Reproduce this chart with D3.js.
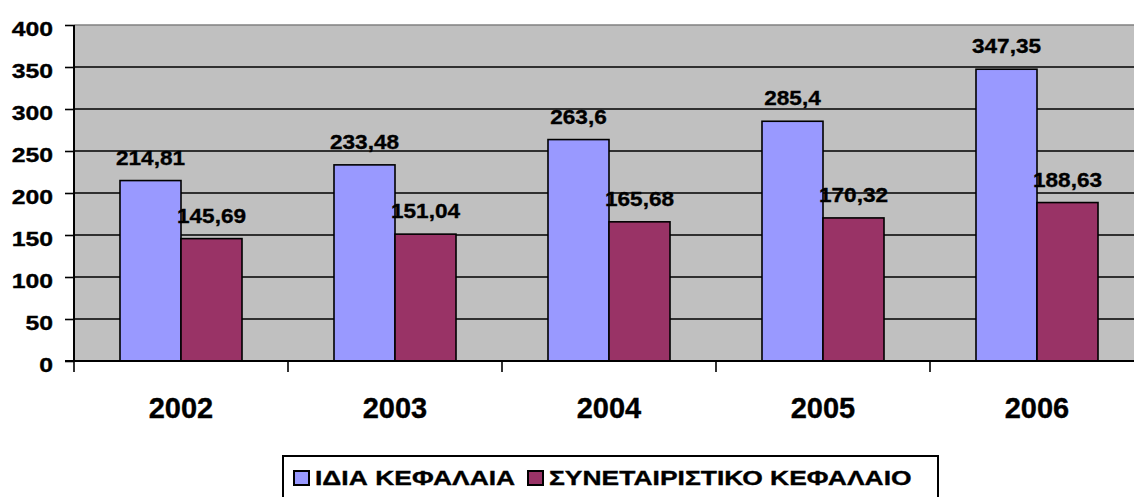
<!DOCTYPE html>
<html>
<head>
<meta charset="utf-8">
<script src="https://cdn.jsdelivr.net/npm/d3@7"></script>
<style>
  html, body { margin: 0; padding: 0; background: #ffffff; overflow: hidden; }
  svg { display: block; }
  text { font-family: "Liberation Sans", Arial, sans-serif; font-weight: bold; fill: #000; stroke: #000; stroke-width: 0.35px; }
</style>
</head>
<body>
<svg id="chart" width="1134" height="497"></svg>
<script>
// Years on the category axis
const years = ["2002", "2003", "2004", "2005", "2006"];
// Series names (legend labels)
const seriesNames = ["ΙΔΙΑ ΚΕΦΑΛΑΙΑ", "ΣΥΝΕΤΑΙΡΙΣΤΙΚΟ ΚΕΦΑΛΑΙΟ"];
// Own funds per year
const idiaKefalaia = [214.81, 233.48, 263.6, 285.4, 347.35];
// Cooperative capital per year
const synetairistiko = [145.69, 151.04, 165.68, 170.32, 188.63];
// Value-axis ticks
const yTicks = [0, 50, 100, 150, 200, 250, 300, 350, 400];
// Labels as printed on the bars (Greek decimal comma)
const idiaLabels = ["214,81", "233,48", "263,6", "285,4", "347,35"];
const synLabels = ["145,69", "151,04", "165,68", "170,32", "188,63"];

const seriesColors = ["#9999FF", "#993366"];

const svg = d3.select("#chart");

const plot = { left: 74, top: 25, right: 1144, bottom: 361 };

const x0 = d3.scaleBand().domain(years).range([plot.left, plot.right]).paddingInner(0).paddingOuter(0);
const x1 = d3.scaleBand().domain(d3.range(seriesNames.length)).range([0, x0.bandwidth()])
  .paddingInner(0).paddingOuter(0.754);
const y = d3.scaleLinear().domain([0, 400]).range([plot.bottom, plot.top]);

// Plot background
svg.append("rect")
  .attr("x", plot.left).attr("y", plot.top)
  .attr("width", plot.right - plot.left).attr("height", plot.bottom - plot.top)
  .attr("fill", "#C0C0C0");

// Horizontal gridlines
svg.append("g").selectAll("line")
  .data(yTicks.filter(t => t > 0 && t < 400))
  .join("line")
  .attr("x1", plot.left).attr("x2", plot.right)
  .attr("y1", d => y(d)).attr("y2", d => y(d))
  .attr("stroke", "#000").attr("stroke-width", 1.6);

// Top border of the plot area
svg.append("line")
  .attr("x1", plot.left).attr("x2", plot.right)
  .attr("y1", y(400)).attr("y2", y(400))
  .attr("stroke", "#808080").attr("stroke-width", 1.6);

// Bars
const rows = years.map((yr, i) => ({ year: yr, values: [idiaKefalaia[i], synetairistiko[i]], labels: [idiaLabels[i], synLabels[i]] }));

const groups = svg.append("g").selectAll("g")
  .data(rows)
  .join("g")
  .attr("transform", d => `translate(${x0(d.year)},0)`);

groups.selectAll("rect")
  .data(d => d.values.map((v, k) => ({ v, k })))
  .join("rect")
  .attr("x", d => x1(d.k))
  .attr("y", d => y(d.v))
  .attr("width", x1.bandwidth())
  .attr("height", d => y(0) - y(d.v))
  .attr("fill", d => seriesColors[d.k])
  .attr("stroke", "#000")
  .attr("stroke-width", 1.6);

// Value labels above each bar (slightly widened glyphs)
groups.selectAll("g.lbl")
  .data(d => d.values.map((v, k) => ({ v, k, t: d.labels[k] })))
  .join("g")
  .attr("class", "lbl")
  .attr("transform", d => `translate(${x1(d.k) + x1.bandwidth() / 2},${y(d.v) - 16}) scale(1.13,1)`)
  .append("text")
  .attr("text-anchor", "middle")
  .attr("font-size", 20)
  .text(d => d.t);

// Left value axis
const yAxis = d3.axisLeft(y).tickValues(yTicks).tickSize(9).tickFormat(d3.format("d"));
const gy = svg.append("g").attr("transform", `translate(${plot.left},0)`).call(yAxis);
gy.select(".domain").attr("stroke", "#000").attr("stroke-width", 2).attr("d", `M0,${plot.top}V${plot.bottom}`);
gy.selectAll(".tick line").attr("stroke", "#000").attr("stroke-width", 1.6);
gy.selectAll(".tick text").remove();
gy.selectAll(".tick").append("g")
  .attr("transform", "translate(-21,10) scale(1.18,1)")
  .append("text")
  .attr("text-anchor", "end")
  .attr("font-size", 21)
  .text(d => d);

// Category axis at zero
const xAxis = d3.axisBottom(x0).tickSize(0).tickFormat("");
const gx = svg.append("g").attr("transform", `translate(0,${plot.bottom})`).call(xAxis);
gx.select(".domain").attr("stroke", "#000").attr("stroke-width", 2).attr("d", `M${plot.left - 9},0H${plot.right}`);
gx.selectAll(".tick").remove();
// Category divider ticks
gx.append("g").selectAll("line")
  .data(years.concat(["end"]))
  .join("line")
  .attr("x1", (d, i) => plot.left + i * x0.step())
  .attr("x2", (d, i) => plot.left + i * x0.step())
  .attr("y1", 0).attr("y2", 11)
  .attr("stroke", "#000").attr("stroke-width", 1.6);
// Year labels
gx.append("g").selectAll("text")
  .data(years)
  .join("text")
  .attr("x", d => x0(d) + x0.bandwidth() / 2)
  .attr("y", 57)
  .attr("text-anchor", "middle")
  .attr("font-size", 29)
  .text(d => d);

// Legend
const legend = svg.append("g").attr("transform", "translate(283,456)");
legend.append("rect")
  .attr("x", 0).attr("y", 0).attr("width", 655).attr("height", 60)
  .attr("fill", "#fff").attr("stroke", "#000").attr("stroke-width", 2);
const legendX = [10, 244];
const items = legend.selectAll("g.item")
  .data(seriesNames)
  .join("g")
  .attr("class", "item")
  .attr("transform", (d, i) => `translate(${legendX[i]},0)`);
items.append("rect")
  .attr("x", 1).attr("y", 15).attr("width", 15).attr("height", 14)
  .attr("fill", (d, i) => seriesColors[i])
  .attr("stroke", "#000").attr("stroke-width", 2);
items.append("g")
  .attr("transform", "translate(22,29) scale(1.26,1)")
  .append("text")
  .attr("font-size", 21)
  .text(d => d);
</script>
</body>
</html>
